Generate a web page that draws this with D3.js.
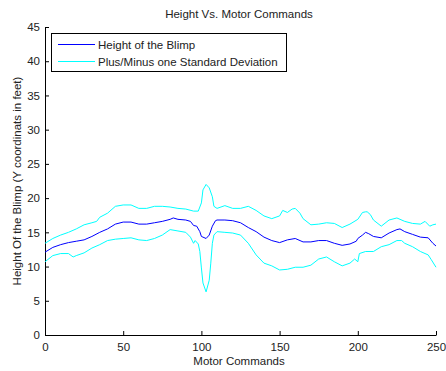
<!DOCTYPE html>
<html>
<head>
<meta charset="utf-8">
<script src="https://cdn.jsdelivr.net/npm/d3@7"></script>
<style>
  body { margin: 0; background: #fff; }
  text { font-family: "Liberation Sans", Arial, sans-serif; }
</style>
</head>
<body>
<div id="chart"></div>
<script>
// Height of the blimp (mean) as [motor command, height]
const meanData = [
  [0, 12.1], [5, 12.8], [10, 13.2], [15, 13.5], [20, 13.7], [25, 13.9], [30, 14.4], [35, 15.0],
  [40, 15.5], [45, 16.2], [50, 16.5], [55, 16.5], [60, 16.2], [65, 16.2], [70, 16.4], [75, 16.6],
  [80, 16.9], [82, 17.1], [85, 16.9], [90, 16.8], [93, 16.6], [95, 16.0], [97, 15.9], [99, 15.1],
  [100, 14.4], [101, 14.3], [103, 14.1], [105, 14.6], [107, 15.9], [109, 16.7], [110, 16.8],
  [115, 16.8], [120, 16.7], [125, 16.4], [130, 15.7], [135, 15.1], [140, 14.3], [145, 13.8],
  [150, 13.5], [155, 13.9], [160, 14.1], [165, 13.6], [170, 13.6], [175, 13.8], [180, 13.8],
  [185, 13.4], [190, 13.1], [195, 13.3], [199, 13.7], [200, 14.1], [203, 14.6], [205, 15.0],
  [207, 14.8], [210, 14.4], [215, 14.2], [220, 14.9], [225, 15.4], [227, 15.5], [230, 15.1],
  [235, 14.7], [240, 14.3], [245, 14.2], [248, 13.4], [250, 13.0]
];

// Mean plus one standard deviation
const upperData = [
  [0, 13.4], [5, 14.1], [10, 14.6], [15, 15.0], [20, 15.5], [25, 16.1], [30, 16.4], [33, 16.6],
  [35, 17.2], [40, 17.8], [45, 18.8], [50, 19.0], [55, 19.0], [60, 18.5], [65, 18.5], [70, 18.8],
  [75, 18.8], [80, 18.7], [85, 18.5], [90, 18.4], [95, 18.1], [98, 18.1], [100, 19.3], [101, 21.2],
  [103, 22.0], [105, 21.5], [107, 20.2], [108, 18.8], [110, 18.5], [115, 18.9], [120, 18.5],
  [125, 18.5], [130, 18.8], [135, 18.2], [140, 17.4], [145, 17.0], [150, 17.4], [152, 18.2],
  [155, 17.9], [158, 18.4], [160, 18.5], [163, 17.8], [165, 17.0], [170, 16.1], [175, 16.2],
  [180, 16.4], [185, 16.3], [190, 15.7], [195, 16.2], [200, 16.9], [203, 17.9], [205, 18.0],
  [206, 18.0], [208, 17.6], [210, 16.8], [215, 15.9], [220, 16.8], [225, 17.1], [230, 16.6],
  [235, 16.3], [240, 16.2], [243, 16.6], [246, 15.9], [248, 16.1], [250, 16.2]
];

// Mean minus one standard deviation
const lowerData = [
  [0, 10.7], [5, 11.6], [10, 11.9], [15, 11.9], [18, 11.4], [20, 11.6], [25, 12.0], [30, 12.7],
  [35, 13.2], [40, 13.8], [45, 14.0], [50, 14.1], [55, 14.2], [60, 13.9], [65, 13.8], [70, 14.1],
  [75, 14.6], [80, 15.4], [85, 15.2], [90, 15.0], [93, 14.3], [95, 13.4], [96, 13.8], [98, 13.3],
  [99, 12.2], [100, 9.8], [101, 7.6], [103, 6.3], [105, 8.0], [106, 10.5], [107, 13.4], [108, 14.6],
  [110, 15.1], [115, 15.0], [120, 14.9], [125, 14.6], [130, 13.4], [135, 11.7], [140, 10.5],
  [145, 10.1], [150, 9.5], [155, 9.6], [160, 9.9], [165, 9.9], [170, 10.2], [175, 11.1],
  [180, 11.4], [185, 10.7], [190, 10.1], [195, 10.5], [198, 11.1], [200, 10.7], [201, 11.9],
  [205, 12.2], [210, 12.2], [215, 12.9], [220, 13.2], [225, 13.8], [228, 13.8], [230, 13.4],
  [235, 12.9], [240, 12.2], [245, 11.7], [247, 11.0], [250, 9.9]
];

const xTicks = [0, 50, 100, 150, 200, 250];
const yTicks = [0, 5, 10, 15, 20, 25, 30, 35, 40, 45];
const legendLabels = ['Height of the Blimp', 'Plus/Minus one Standard Deviation'];

const width = 446, height = 371;
const margin = { left: 45, right: 10, top: 27, bottom: 36 };
const fontSize = '11.5px';

const svg = d3.select('#chart').append('svg')
  .attr('width', width)
  .attr('height', height);

const x = d3.scaleLinear().domain([0, 250]).range([margin.left, width - margin.right]);
const y = d3.scaleLinear().domain([0, 45]).range([height - margin.bottom, margin.top]);

// axes, ticks pointing inward like MATLAB
const xAxis = svg.append('g')
  .attr('transform', `translate(0,${y(0)})`)
  .call(d3.axisBottom(x).tickValues(xTicks).tickSizeInner(-4).tickSizeOuter(0).tickPadding(8));
const yAxis = svg.append('g')
  .attr('transform', `translate(${x(0)},0)`)
  .call(d3.axisLeft(y).tickValues(yTicks).tickSizeInner(-4).tickSizeOuter(0).tickPadding(5));

[xAxis, yAxis].forEach(g => {
  g.selectAll('text').attr('font-size', fontSize).attr('fill', '#222')
    .style('font-family', '"Liberation Sans", Arial, sans-serif');
  g.select('.domain').attr('stroke', '#000');
  g.selectAll('line').attr('stroke', '#000');
});

const line = d3.line().x(d => x(d[0])).y(d => y(d[1]));

svg.append('path').datum(upperData)
  .attr('fill', 'none').attr('stroke', '#00ffff').attr('stroke-width', 1).attr('d', line);
svg.append('path').datum(lowerData)
  .attr('fill', 'none').attr('stroke', '#00ffff').attr('stroke-width', 1).attr('d', line);
svg.append('path').datum(meanData)
  .attr('fill', 'none').attr('stroke', '#0000ff').attr('stroke-width', 1).attr('d', line);

// title and labels
svg.append('text')
  .attr('x', 239).attr('y', 18)
  .attr('text-anchor', 'middle')
  .attr('font-size', fontSize).attr('fill', '#222')
  .text('Height Vs. Motor Commands');

svg.append('text')
  .attr('x', 239).attr('y', 365)
  .attr('text-anchor', 'middle')
  .attr('font-size', fontSize).attr('fill', '#222')
  .text('Motor Commands');

svg.append('text')
  .attr('transform', `translate(21,${(y(0) + y(45)) / 2}) rotate(-90)`)
  .attr('text-anchor', 'middle')
  .attr('font-size', fontSize).attr('fill', '#222')
  .text('Height Of the Blimp (Y coordinats in feet)');

// legend
const legend = svg.append('g');
legend.append('rect')
  .attr('x', 51.5).attr('y', 33.5).attr('width', 235).attr('height', 38)
  .attr('fill', '#fff').attr('stroke', '#000');
const legendColors = ['#0000ff', '#00ffff'];
legendLabels.forEach((label, i) => {
  const ly = 44.5 + i * 17;
  legend.append('line')
    .attr('x1', 58).attr('x2', 95).attr('y1', ly).attr('y2', ly)
    .attr('stroke', legendColors[i]);
  legend.append('text')
    .attr('x', 98).attr('y', ly + 4)
    .attr('font-size', fontSize).attr('fill', '#222')
    .text(label);
});
</script>
</body>
</html>
